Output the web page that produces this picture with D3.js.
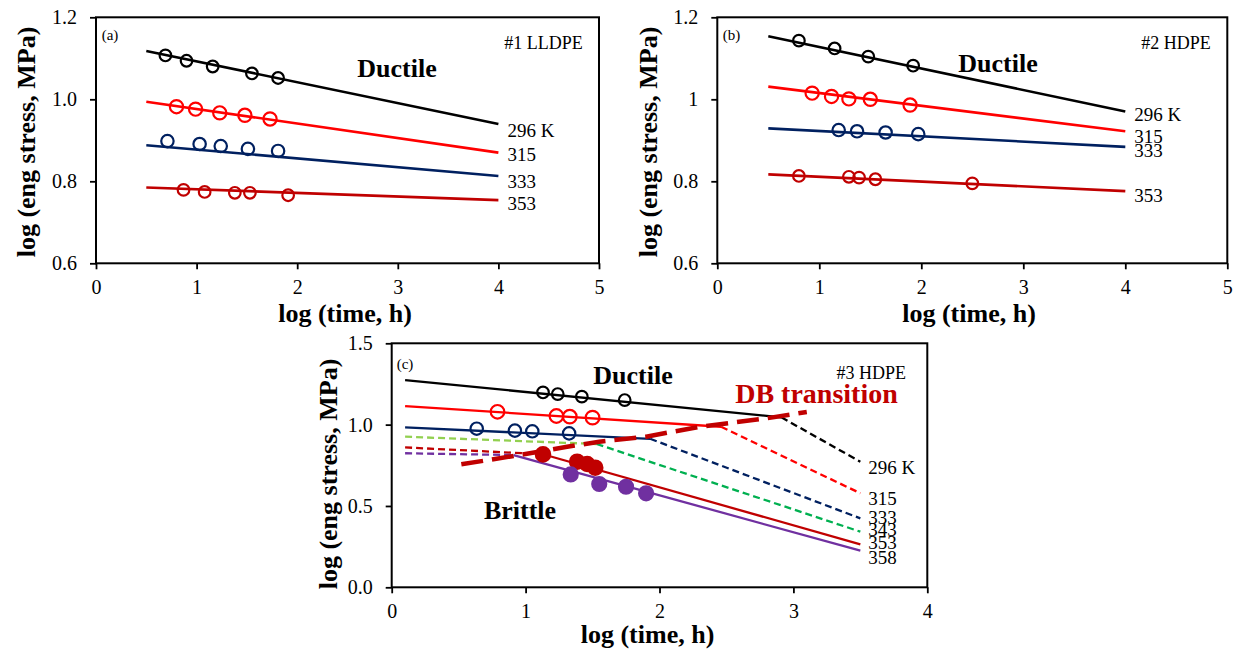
<!DOCTYPE html>
<html>
<head>
<meta charset="utf-8">
<script src="https://cdn.jsdelivr.net/npm/d3@7"></script>
<style>
body { margin: 0; background: #fff; }
svg text { font-family: "Liberation Serif", "Times New Roman", serif; fill: #000; }
</style>
</head>
<body>
<svg id="fig" width="1238" height="651"></svg>
<script>
// Ejes
var xTicksAB = [0, 1, 2, 3, 4, 5];
var yTicksAB = [0.6, 0.8, 1.0, 1.2];
var xTicksC = [0, 1, 2, 3, 4];
var yTicksC = [0, 0.5, 1.0, 1.5];

// (a) #1 LLDPE : recta de ajuste entre log t = 0.5 y 4
var tempsA = ["296 K", "315", "333", "353"];
var fitXAB = [0.5, 4];
var fitStartA = [1.118, 0.994, 0.888, 0.785];
var fitEndA = [0.940, 0.870, 0.813, 0.754];
var pts296A = [[0.69, 1.107], [0.90, 1.094], [1.16, 1.080], [1.55, 1.063], [1.81, 1.052]];
var pts315A = [[0.80, 0.982], [0.99, 0.976], [1.23, 0.967], [1.48, 0.961], [1.73, 0.952]];
var pts333A = [[0.71, 0.898], [1.03, 0.891], [1.24, 0.886], [1.51, 0.879], [1.81, 0.874]];
var pts353A = [[0.87, 0.779], [1.08, 0.774], [1.38, 0.772], [1.53, 0.772], [1.91, 0.766]];

// (b) #2 HDPE
var tempsB = ["296 K", "315", "333", "353"];
var fitStartB = [1.154, 1.031, 0.929, 0.817];
var fitEndB = [0.970, 0.922, 0.884, 0.776];
var pts296B = [[0.80, 1.143], [1.15, 1.124], [1.48, 1.104], [1.92, 1.082]];
var pts315B = [[0.93, 1.015], [1.12, 1.007], [1.29, 1.001], [1.50, 1.000], [1.89, 0.986]];
var pts333B = [[1.19, 0.925], [1.37, 0.922], [1.65, 0.919], [1.97, 0.915]];
var pts353B = [[0.80, 0.813], [1.29, 0.811], [1.39, 0.809], [1.55, 0.805], [2.50, 0.795]];

// (c) #3 HDPE : tramo ductil hasta el codo, tramo fragil despues
var tempsC = ["296 K", "315", "333", "343", "353", "358"];
var lineXC = [0.1, 3.5];
var startC = [1.274, 1.114, 0.983, 0.926, 0.860, 0.824];
var kneeXC = [2.91, 2.46, 1.93, 1.53, 1.13, 0.91];
var kneeYC = [1.045, 0.987, 0.913, 0.881, 0.818, 0.813];
var endC = [0.772, 0.578, 0.424, 0.342, 0.264, 0.225];
var pts296C = [[1.13, 1.198], [1.24, 1.188], [1.42, 1.172], [1.74, 1.151]];
var pts315C = [[0.79, 1.079], [1.23, 1.053], [1.33, 1.049], [1.50, 1.043]];
var pts333C = [[0.635, 0.975], [0.92, 0.963], [1.05, 0.959], [1.325, 0.946]];
var pts353C = [[1.13, 0.817], [1.385, 0.772], [1.46, 0.758], [1.52, 0.735]];
var pts358C = [[1.337, 0.694], [1.55, 0.635], [1.75, 0.618], [1.90, 0.578]];
var dbTransition = [[0.52, 0.756], [0.91, 0.807], [1.31, 0.864], [1.55, 0.895], [1.90, 0.926], [2.30, 0.987], [2.80, 1.039], [3.10, 1.078]];

// Estilos
var colorsAB = ["#000000", "#ff0000", "#002060", "#c00000"];
var radiusAB = [5.8, 6.6, 6.2, 5.8];
var labelDyA = [6, 2, 5, 3];
var labelDyB = [3, 5, 3, 4];
var colorsC = ["#000000", "#ff0000", "#002060", "#00b050", "#c00000", "#7030a0"];
var preColorsC = ["#000000", "#ff0000", "#002060", "#92d050", "#c00000", "#7030a0"];
var preDashedC = [false, false, false, true, true, true];
var postDashedC = [true, true, true, true, false, false];
var labelDyC = [6, 5, -1, -2, -2, 7];

var svg = d3.select("#fig");

function drawFrame(p) {
	var x = d3.scaleLinear().domain(p.xDomain).range([p.left, p.right]);
	var y = d3.scaleLinear().domain(p.yDomain).range([p.bottom, p.top]);
	var g = svg.append("g");

	var ax = g.append("g")
		.attr("transform", "translate(0," + p.bottom + ")")
		.call(d3.axisBottom(x).tickValues(p.xTicks).tickFormat(d3.format("d"))
			.tickSize(6).tickPadding(11).tickSizeOuter(0));
	var ay = g.append("g")
		.attr("transform", "translate(" + p.left + ",0)")
		.call(d3.axisLeft(y).tickValues(p.yTicks).tickFormat(p.yFormat)
			.tickSize(6).tickPadding(13).tickSizeOuter(0));
	[ax, ay].forEach(function(a) {
		a.select(".domain").remove();
		a.selectAll("line").attr("stroke", "#000").attr("stroke-width", 1.8);
		a.selectAll("text").attr("font-size", 20).attr("font-family", "Liberation Serif");
	});

	g.append("rect")
		.attr("x", p.left).attr("y", p.top)
		.attr("width", p.right - p.left).attr("height", p.bottom - p.top)
		.attr("fill", "none").attr("stroke", "#000").attr("stroke-width", 2);

	g.append("text")
		.attr("transform", "translate(" + p.yTitle[0] + "," + p.yTitle[1] + ") rotate(-90)")
		.attr("text-anchor", "middle").attr("dy", "0.35em")
		.attr("font-size", 26).attr("font-weight", "bold")
		.text("log (eng stress, MPa)");
	g.append("text")
		.attr("x", p.xTitle[0]).attr("y", p.xTitle[1])
		.attr("text-anchor", "middle").attr("dy", "0.35em")
		.attr("font-size", 26).attr("font-weight", "bold")
		.text("log (time, h)");

	g.append("text").attr("x", p.tag[0]).attr("y", p.tag[1]).attr("dy", "0.35em")
		.attr("font-size", 15).text(p.tagText);
	g.append("text").attr("x", p.name[0]).attr("y", p.name[1]).attr("dy", "0.35em")
		.attr("text-anchor", "end").attr("font-size", 18).text(p.nameText);

	return { g: g, x: x, y: y };
}

function dibujarCirculos(f, pts, color, r, filled) {
	f.g.append("g").selectAll("circle").data(pts).enter().append("circle")
		.attr("cx", function(d) { return f.x(d[0]); })
		.attr("cy", function(d) { return f.y(d[1]); })
		.attr("r", r)
		.attr("fill", filled ? color : "none")
		.attr("stroke", color)
		.attr("stroke-width", 2.2);
}

function drawSimplePanel(p, temps, starts, ends, pts, labelDy) {
	var f = drawFrame(p);
	var line = d3.line().x(function(d) { return f.x(d[0]); }).y(function(d) { return f.y(d[1]); });
	temps.forEach(function(t, i) {
		var seg = [[fitXAB[0], starts[i]], [fitXAB[1], ends[i]]];
		f.g.append("path").attr("d", line(seg))
			.attr("fill", "none").attr("stroke", colorsAB[i]).attr("stroke-width", 2.6);
		dibujarCirculos(f, pts[i], colorsAB[i], radiusAB[i], false);
		f.g.append("text")
			.attr("x", f.x(fitXAB[1]) + 9).attr("y", f.y(ends[i]) + labelDy[i])
			.attr("dy", "0.35em").attr("font-size", 19).text(t);
	});
	f.g.append("text").attr("x", p.ductile[0]).attr("y", p.ductile[1]).attr("dy", "0.35em")
		.attr("text-anchor", "middle").attr("font-size", 26).attr("font-weight", "bold").text("Ductile");
	return f;
}

// Panel (a)
drawSimplePanel({
	left: 96, right: 599, top: 17.3, bottom: 263.3,
	xDomain: [0, 5], yDomain: [0.6, 1.2], xTicks: xTicksAB, yTicks: yTicksAB,
	yFormat: d3.format(".1f"),
	yTitle: [26, 142], xTitle: [345, 313],
	tag: [101.7, 35], tagText: "(a)", name: [582.7, 43], nameText: "#1 LLDPE",
	ductile: [397, 68]
}, tempsA, fitStartA, fitEndA, [pts296A, pts315A, pts333A, pts353A], labelDyA);

// Panel (b)
drawSimplePanel({
	left: 717.3, right: 1227.3, top: 17.3, bottom: 263.3,
	xDomain: [0, 5], yDomain: [0.6, 1.2], xTicks: xTicksAB, yTicks: yTicksAB,
	yFormat: function(d) { return d === 1 ? "1" : d3.format(".1f")(d); },
	yTitle: [648, 142], xTitle: [969, 313],
	tag: [722.7, 35], tagText: "(b)", name: [1210.7, 43], nameText: "#2 HDPE",
	ductile: [998, 63]
}, tempsB, fitStartB, fitEndB, [pts296B, pts315B, pts333B, pts353B], labelDyB);

// Panel (c)
var fc = drawFrame({
	left: 391.7, right: 927.3, top: 343.3, bottom: 587.3,
	xDomain: [0, 4], yDomain: [0, 1.5], xTicks: xTicksC, yTicks: yTicksC,
	yFormat: d3.format(".1f"),
	yTitle: [328, 474], xTitle: [647.5, 634],
	tag: [396.7, 363.3], tagText: "(c)", name: [906, 372.7], nameText: "#3 HDPE"
});
var lineC = d3.line().x(function(d) { return fc.x(d[0]); }).y(function(d) { return fc.y(d[1]); });

tempsC.forEach(function(t, i) {
	var pre = [[lineXC[0], startC[i]], [kneeXC[i], kneeYC[i]]];
	var post = [[kneeXC[i], kneeYC[i]], [lineXC[1], endC[i]]];
	fc.g.append("path").attr("d", lineC(pre))
		.attr("fill", "none").attr("stroke", preColorsC[i]).attr("stroke-width", 2.3)
		.attr("stroke-dasharray", preDashedC[i] ? "7 4" : null);
	fc.g.append("path").attr("d", lineC(post))
		.attr("fill", "none").attr("stroke", colorsC[i]).attr("stroke-width", 2.3)
		.attr("stroke-dasharray", postDashedC[i] ? "7 4" : null);
	fc.g.append("text")
		.attr("x", fc.x(lineXC[1]) + 8).attr("y", fc.y(endC[i]) + labelDyC[i])
		.attr("dy", "0.35em").attr("font-size", 19).text(t);
});

// Linea de transicion ductil-fragil
fc.g.append("path").attr("d", lineC(dbTransition))
	.attr("fill", "none").attr("stroke", "#c00000").attr("stroke-width", 4.5)
	.attr("stroke-dasharray", "22 9");

dibujarCirculos(fc, pts296C, colorsC[0], 5.8, false);
dibujarCirculos(fc, pts315C, colorsC[1], 6.8, false);
dibujarCirculos(fc, pts333C, colorsC[2], 6.2, false);
dibujarCirculos(fc, pts353C, colorsC[4], 7.2, true);
dibujarCirculos(fc, pts358C, colorsC[5], 7, true);

fc.g.append("text").attr("x", 633).attr("y", 375).attr("dy", "0.35em")
	.attr("text-anchor", "middle").attr("font-size", 26).attr("font-weight", "bold").text("Ductile");
fc.g.append("text").attr("x", 520).attr("y", 510).attr("dy", "0.35em")
	.attr("text-anchor", "middle").attr("font-size", 26).attr("font-weight", "bold").text("Brittle");
fc.g.append("text").attr("x", 816.5).attr("y", 393).attr("dy", "0.35em")
	.attr("text-anchor", "middle").attr("font-size", 28).attr("font-weight", "bold")
	.style("fill", "#c00000").text("DB transition");
</script>
</body>
</html>
